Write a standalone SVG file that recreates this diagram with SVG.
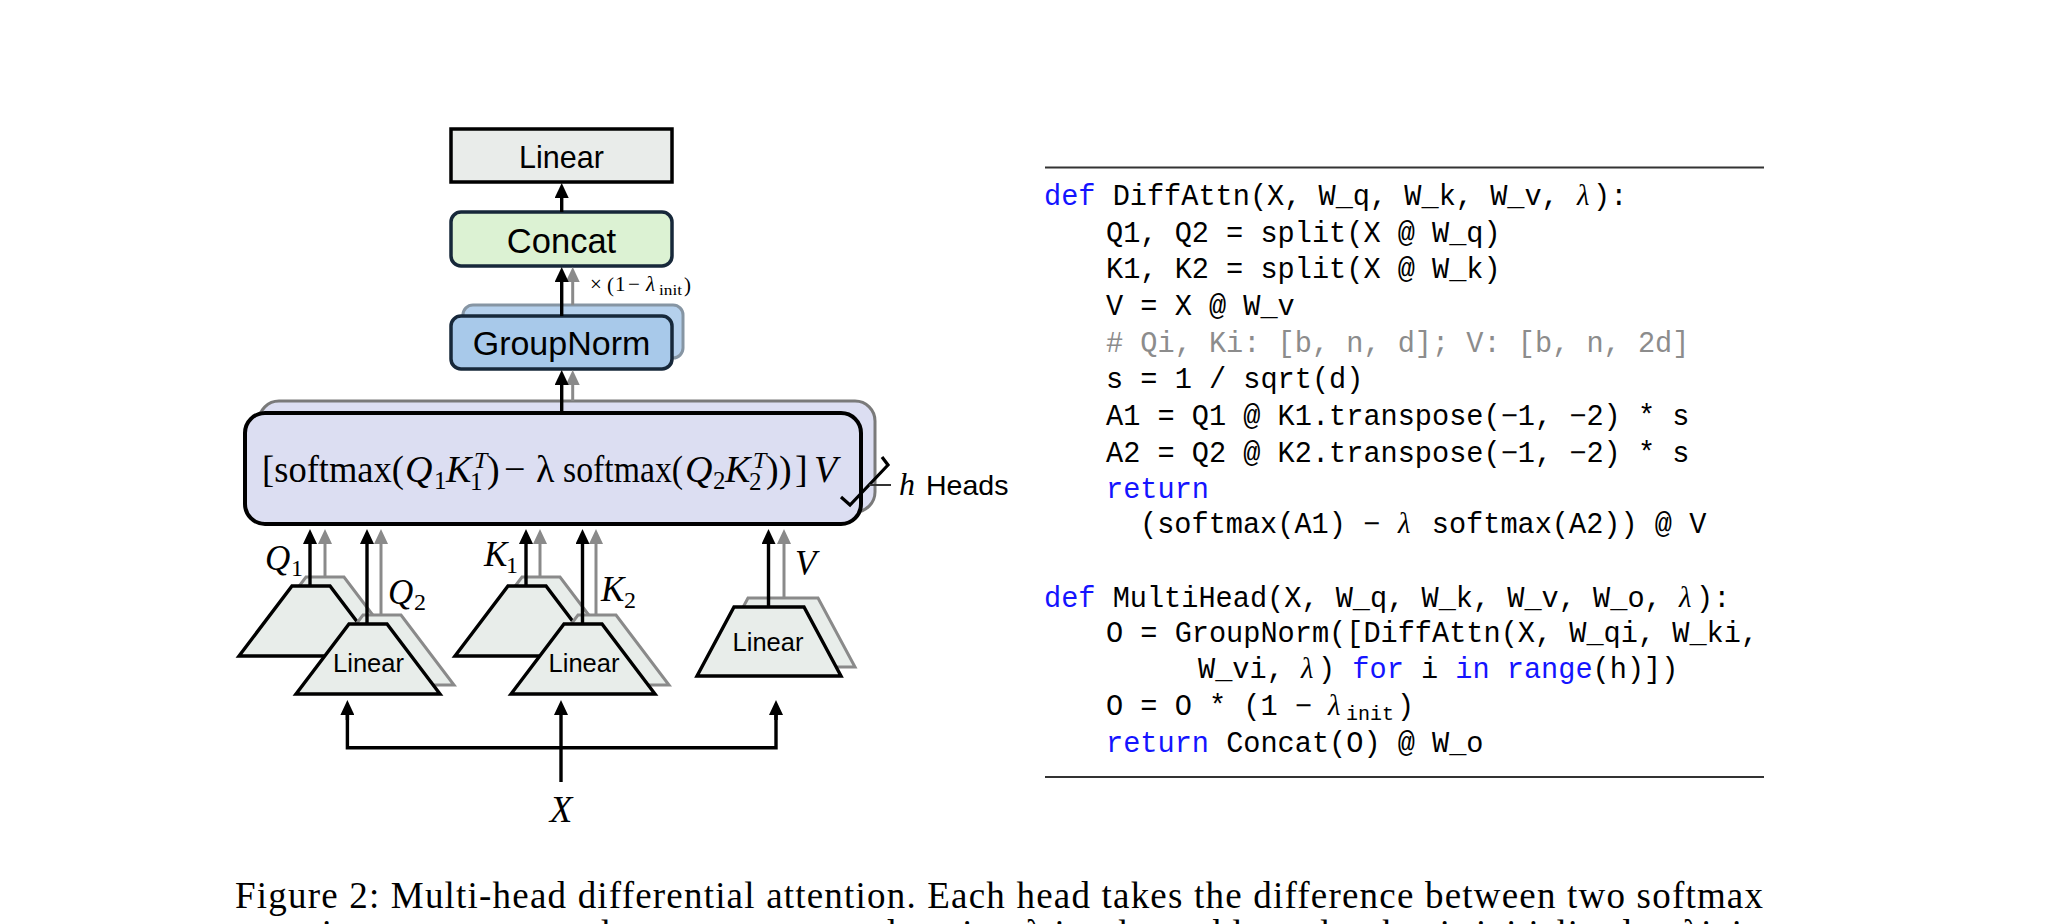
<svg xmlns="http://www.w3.org/2000/svg" width="2048" height="924" viewBox="0 0 2048 924">
<defs>
<style>
.sans{font-family:"Liberation Sans",Arial,sans-serif;fill:#000}
.serif{font-family:"Liberation Serif","Times New Roman",serif;fill:#000}
.it{font-style:italic}
.code{font-family:"Liberation Mono","Courier New",monospace;font-size:28.6px;fill:#000;white-space:pre}
.csub{font-size:20px}
.kw{fill:#1414ff}
.cm{fill:#8c8c8c}
.lam{font-family:"Liberation Serif","Times New Roman",serif;font-style:italic}
.blk{stroke:#000;stroke-width:3.4;fill:none}
.gry{stroke:#8a8a8a;stroke-width:3;fill:none}
.trapF{fill:#e8edea;stroke:#000;stroke-width:3.4;stroke-linejoin:miter}
.trapB{fill:#e8edea;stroke:#8a8a8a;stroke-width:3}
</style>
<marker id="ah" viewBox="0 0 15 14" refX="0" refY="7" markerWidth="15" markerHeight="14" markerUnits="userSpaceOnUse" orient="auto">
<path d="M0,0 L15,7 L0,14 z" fill="#000"/>
</marker>
<marker id="ahg" viewBox="0 0 15 14" refX="0" refY="7" markerWidth="15" markerHeight="14" markerUnits="userSpaceOnUse" orient="auto">
<path d="M0,0 L15,7 L0,14 z" fill="#8a8a8a"/>
</marker>
</defs>
<rect width="2048" height="924" fill="#fff"/>

<!-- Nodes -->
<g id="linear-out">
<rect x="451" y="129" width="221" height="53" fill="#e9ecea" stroke="#000" stroke-width="3.5"/>
<text class="sans" x="561.5" y="168" font-size="30.5" text-anchor="middle">Linear</text>
</g>
<g id="concat">
<rect x="451" y="212" width="221" height="54" rx="10" fill="#dcf2d3" stroke="#17283a" stroke-width="3.5"/>
<text class="sans" x="561.5" y="253" font-size="34.5" text-anchor="middle">Concat</text>
</g>
<g id="groupnorm">
<rect x="463" y="305" width="220" height="53" rx="10" fill="#b5d0ec" stroke="#8695a3" stroke-width="3"/>
<rect x="451" y="316" width="221" height="53" rx="10" fill="#a8c9ea" stroke="#17283a" stroke-width="3.5"/>
<text class="sans" x="561.5" y="355" font-size="34" text-anchor="middle">GroupNorm</text>
</g>
<g id="scale-label" class="serif" font-size="21">
<text x="590" y="291">×</text>
<text x="607" y="292">(</text>
<text x="615" y="291">1</text>
<text x="628" y="291">−</text>
<text x="646" y="291" class="it">λ</text>
<text x="659" y="295" font-size="15" textLength="23" lengthAdjust="spacingAndGlyphs">init</text>
<text x="684" y="292">)</text>
</g>
<g id="diff-attention">
<rect x="259" y="401" width="616" height="111" rx="20" fill="#dcdef2" stroke="#7a7a7a" stroke-width="3"/>
<rect x="245" y="413" width="616" height="111" rx="20" fill="#dcdef2" stroke="#000" stroke-width="4"/>
<g class="serif" font-size="38">
<text x="262" y="482" textLength="142" lengthAdjust="spacingAndGlyphs">[softmax(</text>
<text x="405" y="482" class="it">Q</text>
<text x="434" y="489" font-size="25">1</text>
<text x="446" y="482" class="it">K</text>
<text x="474" y="468" font-size="24" class="it">T</text>
<text x="470" y="490" font-size="25">1</text>
<text x="487" y="482">)</text>
<text x="504" y="482">−</text>
<text x="536" y="482">λ</text>
<text x="563" y="482" textLength="120" lengthAdjust="spacingAndGlyphs">softmax(</text>
<text x="685" y="482" class="it">Q</text>
<text x="713" y="489" font-size="25">2</text>
<text x="725" y="482" class="it">K</text>
<text x="753" y="468" font-size="24" class="it">T</text>
<text x="749" y="490" font-size="25">2</text>
<text x="766" y="482">)</text>
<text x="779" y="482">)</text>
<text x="795" y="482">]</text>
<text x="814" y="482" class="it">V</text>
</g>
<path d="M841,497 L850,505 L888,465 L882,457" fill="none" stroke="#000" stroke-width="3.2"/>
<line x1="869" y1="485" x2="891" y2="485" stroke="#333" stroke-width="2"/>
<text class="serif it" x="899" y="495" font-size="32">h</text>
<text class="sans" x="926" y="495" font-size="28.5">Heads</text>
</g>
<g id="linear-q">
<polygon class="trapB" points="306,577 344,577 397,647 253,647"/>
<polygon class="trapF" points="292,586 330,586 383,656 239,656"/>
<polygon class="trapB" points="363,615 401,615 454,685 310,685"/>
<polygon class="trapF" points="349,624 387,624 440,694 296,694"/>
<text class="sans" x="368.5" y="672" font-size="25.5" text-anchor="middle">Linear</text>
</g>
<g id="linear-k">
<polygon class="trapB" points="522,577 560,577 613,647 469,647"/>
<polygon class="trapF" points="508,586 546,586 599,656 455,656"/>
<polygon class="trapB" points="578,615 616,615 669,685 525,685"/>
<polygon class="trapF" points="564,624 602,624 655,694 511,694"/>
<text class="sans" x="584" y="672" font-size="25.5" text-anchor="middle">Linear</text>
</g>
<g id="linear-v">
<polygon class="trapB" points="748,598 818,598 855,667 711,667"/>
<polygon class="trapF" points="734,607 804,607 841,676 697,676"/>
<text class="sans" x="768" y="651" font-size="25.5" text-anchor="middle">Linear</text>
</g>
<g id="labels" class="serif it" font-size="35">
<text x="265" y="570">Q</text><text x="291" y="576" font-size="24" font-style="normal">1</text>
<text x="388" y="604">Q</text><text x="414" y="610" font-size="24" font-style="normal">2</text>
<text x="484" y="566">K</text><text x="506" y="573" font-size="24" font-style="normal">1</text>
<text x="601" y="601">K</text><text x="624" y="608" font-size="24" font-style="normal">2</text>
<text x="795" y="575">V</text>
<text x="561" y="822" font-size="37" text-anchor="middle">X</text>
</g>

<!-- Connectors -->
<g id="connectors">
<line class="blk" x1="561.7" y1="212" x2="561.7" y2="198" marker-end="url(#ah)"/>
<line class="gry" x1="572.7" y1="305" x2="572.7" y2="282" marker-end="url(#ahg)"/>
<line class="blk" x1="561.7" y1="316" x2="561.7" y2="282" marker-end="url(#ah)"/>
<line class="gry" x1="572.7" y1="401" x2="572.7" y2="385" marker-end="url(#ahg)"/>
<line class="blk" x1="561.7" y1="413" x2="561.7" y2="385" marker-end="url(#ah)"/>
<line class="gry" x1="325" y1="577" x2="325" y2="544" marker-end="url(#ahg)"/>
<line class="blk" x1="310" y1="586" x2="310" y2="544" marker-end="url(#ah)"/>
<line class="gry" x1="381" y1="615" x2="381" y2="544" marker-end="url(#ahg)"/>
<line class="blk" x1="367" y1="624" x2="367" y2="544" marker-end="url(#ah)"/>
<line class="gry" x1="540" y1="577" x2="540" y2="544" marker-end="url(#ahg)"/>
<line class="blk" x1="526" y1="586" x2="526" y2="544" marker-end="url(#ah)"/>
<line class="gry" x1="596" y1="615" x2="596" y2="544" marker-end="url(#ahg)"/>
<line class="blk" x1="582.5" y1="624" x2="582.5" y2="544" marker-end="url(#ah)"/>
<line class="gry" x1="784" y1="598" x2="784" y2="544" marker-end="url(#ahg)"/>
<line class="blk" x1="768.5" y1="607" x2="768.5" y2="544" marker-end="url(#ah)"/>
<polyline class="blk" points="347.4,715 347.4,747.7 776,747.7 776,715" fill="none"/>
<line class="blk" x1="347.4" y1="720" x2="347.4" y2="715" marker-end="url(#ah)"/>
<line class="blk" x1="776" y1="720" x2="776" y2="715" marker-end="url(#ah)"/>
<line class="blk" x1="561" y1="782" x2="561" y2="715" marker-end="url(#ah)"/>
</g>

<!-- Code listing -->
<g id="code">
<line x1="1045" y1="167.5" x2="1764" y2="167.5" stroke="#333" stroke-width="2"/>
<text class="code" x="1044" y="205"><tspan class="kw">def</tspan> DiffAttn(X, W_q, W_k, W_v, </text>
<text class="code lam" x="1577" y="205">λ</text>
<text class="code" x="1593" y="205">):</text>
<text class="code" x="1106" y="241.7">Q1, Q2 = split(X @ W_q)</text>
<text class="code" x="1106" y="278.3">K1, K2 = split(X @ W_k)</text>
<text class="code" x="1106" y="315">V = X @ W_v</text>
<text class="code cm" x="1106" y="351.7"># Qi, Ki: [b, n, d]; V: [b, n, 2d]</text>
<text class="code" x="1106" y="388.3">s = 1 / sqrt(d)</text>
<text class="code" x="1106" y="425">A1 = Q1 @ K1.transpose(−1, −2) * s</text>
<text class="code" x="1106" y="461.7">A2 = Q2 @ K2.transpose(−1, −2) * s</text>
<text class="code kw" x="1106" y="498">return</text>
<text class="code" x="1140" y="533">(softmax(A1) − </text>
<text class="code lam" x="1398" y="533">λ</text>
<text class="code" x="1414.6" y="533"> softmax(A2)) @ V</text>

<text class="code" x="1044" y="607"><tspan class="kw">def</tspan> MultiHead(X, W_q, W_k, W_v, W_o, </text>
<text class="code lam" x="1679" y="607">λ</text>
<text class="code" x="1696" y="607">):</text>
<text class="code" x="1106" y="641.7">O = GroupNorm([DiffAttn(X, W_qi, W_ki,</text>
<text class="code" x="1198" y="678.3">W_vi, </text>
<text class="code lam" x="1301" y="678.3">λ</text>
<text class="code" x="1318" y="678.3">) <tspan class="kw">for</tspan> i <tspan class="kw">in</tspan> <tspan class="kw">range</tspan>(h)])</text>
<text class="code" x="1106" y="715">O = O * (1 − </text>
<text class="code lam" x="1328" y="715">λ</text>
<text class="code csub" x="1346" y="720">init</text>
<text class="code" x="1397" y="715">)</text>
<text class="code" x="1106" y="751.7"><tspan class="kw">return</tspan> Concat(O) @ W_o</text>
<line x1="1045" y1="777" x2="1764" y2="777" stroke="#333" stroke-width="2"/>
</g>

<!-- Caption -->
<g id="caption" class="serif" font-size="37">
<text x="235" y="908" textLength="1528" lengthAdjust="spacing">Figure 2: Multi-head differential attention. Each head takes the difference between two softmax</text>
<text x="235" y="946" textLength="1528" lengthAdjust="spacing">attention maps to cancel out common-mode noise. λ is a learnable scalar that is initialized to λinit.</text>
</g>
</svg>
